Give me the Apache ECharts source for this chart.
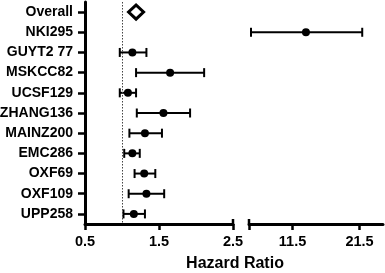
<!DOCTYPE html>
<html><head><meta charset="utf-8">
<script src="https://cdn.jsdelivr.net/npm/echarts@6/dist/echarts.min.js"></script>
<style>html,body{margin:0;padding:0;background:#fff}#c{width:385px;height:273px}#e{position:absolute;left:95px;top:0;width:280px;font:9px sans-serif;color:red;white-space:pre-wrap}</style>
</head><body><div id="c"></div><div id="e"></div>
<script>
const categories = ['Overall','NKI295','GUYT2 77','MSKCC82','UCSF129','ZHANG136','MAINZ200','EMC286','OXF69','OXF109','UPP258'];
const hazardRatio = [1.19, 13.5, 1.14, 1.65, 1.08, 1.56, 1.31, 1.14, 1.30, 1.33, 1.16];
const ciLower = [null, 5.3, 0.97, 1.19, 0.97, 1.20, 1.10, 1.03, 1.17, 1.09, 1.02];
const ciUpper = [null, 21.9, 1.33, 2.11, 1.19, 1.92, 1.54, 1.24, 1.45, 1.57, 1.31];
const leftTicks = [0.5, 1.5, 2.5];
const rightTicks = [11.5, 21.5];
const leftRange = [0.5, 2.5];
const rightRange = [5, 25];
const refLine = 1;

const FONT = 'Liberation Sans';
const rowIdx = categories.map((c, i) => i);
const inLeft = v => v <= leftRange[1];
const barsL = [], barsR = [], ptsL = [], ptsR = [], overall = [];
categories.forEach((c, i) => {
  if (c === 'Overall') { overall.push([hazardRatio[i], i]); return; }
  if (inLeft(hazardRatio[i])) { barsL.push([ciLower[i], ciUpper[i], i]); ptsL.push([hazardRatio[i], i]); }
  else { barsR.push([ciLower[i], ciUpper[i], i]); ptsR.push([hazardRatio[i], i]); }
});
const errs = [];
window.addEventListener('error', ev => { errs.push('win: ' + ev.message); document.getElementById('e').textContent = errs.join('\n'); });

function renderBar(params, api) {
  const yv = api.value(2);
  const a = api.coord([api.value(0), yv]);
  const b = api.coord([api.value(1), yv]);
  const h = 4.5;
  const st = {stroke: '#000', lineWidth: 2};
  return {type: 'group', children: [
    {type: 'line', shape: {x1: a[0], y1: a[1], x2: b[0], y2: b[1]}, style: st},
    {type: 'line', shape: {x1: a[0], y1: a[1] - h, x2: a[0], y2: a[1] + h}, style: st},
    {type: 'line', shape: {x1: b[0], y1: b[1] - h, x2: b[0], y2: b[1] + h}, style: st}
  ]};
}

const lbl = {fontFamily: FONT, fontWeight: 'bold', fontSize: 14.5, color: '#000'};
const ylbl = {fontFamily: FONT, fontWeight: 'bold', fontSize: 14, color: '#000'};
const yRange = [-0.5, categories.length - 0.5];
const xAxisLine = {show: true, onZero: false, lineStyle: {color: '#000', width: 3}};
const chart = echarts.init(document.getElementById('c'));
try {
chart.setOption({
  animation: false,
  grid: [
    {left: 85, width: 148, top: 2, height: 222, outerBoundsMode: 'none'},
    {left: 249, width: 134, top: 2, height: 222, outerBoundsMode: 'none'}
  ],
  xAxis: [
    {gridIndex: 0, type: 'value', position: 'bottom', min: leftRange[0], max: leftRange[1], splitLine: {show: false},
     axisLine: xAxisLine,
     axisTick: {show: true, length: 6, lineStyle: {color: '#000', width: 2.5}, customValues: leftTicks},
     axisLabel: Object.assign({margin: 10, customValues: leftTicks, formatter: v => v.toFixed(1)}, lbl)},
    {gridIndex: 1, type: 'value', position: 'bottom', min: rightRange[0], max: rightRange[1], splitLine: {show: false},
     axisLine: xAxisLine,
     axisTick: {show: true, length: 6, lineStyle: {color: '#000', width: 2.5}, customValues: [rightRange[0]].concat(rightTicks)},
     axisLabel: Object.assign({margin: 10, customValues: rightTicks, formatter: v => v.toFixed(1)}, lbl)}
  ],
  yAxis: [
    {gridIndex: 0, type: 'value', position: 'left', min: yRange[0], max: yRange[1], inverse: true, splitLine: {show: false},
     axisLine: {show: true, onZero: false, lineStyle: {color: '#000', width: 3}},
     axisTick: {show: true, length: 7, lineStyle: {color: '#000', width: 2.5}, customValues: rowIdx},
     axisLabel: Object.assign({margin: 12, customValues: rowIdx, formatter: v => categories[Math.round(v)]}, ylbl)},
    {gridIndex: 1, type: 'value', min: yRange[0], max: yRange[1], inverse: true, splitLine: {show: false},
     axisLine: {show: false, onZero: false}, axisTick: {show: false}, axisLabel: {show: false}}
  ],
  series: [
    {type: 'custom', xAxisIndex: 0, yAxisIndex: 0, data: barsL, renderItem: renderBar, encode: {x: [0, 1], y: 2},
     markLine: {silent: true, symbol: 'none', label: {show: false},
       lineStyle: {type: [1.5, 1.5], color: '#444', width: 1}, data: [{xAxis: refLine}]}},
    {type: 'scatter', xAxisIndex: 0, yAxisIndex: 0, data: ptsL, symbol: 'circle', symbolSize: 8, itemStyle: {color: '#000', opacity: 1}},
    {type: 'scatter', xAxisIndex: 0, yAxisIndex: 0, data: overall, symbol: 'diamond', symbolSize: [15, 14],
     itemStyle: {color: '#fff', borderColor: '#000', borderWidth: 3, opacity: 1}},
    {type: 'custom', xAxisIndex: 1, yAxisIndex: 1, data: barsR, renderItem: renderBar, encode: {x: [0, 1], y: 2}},
    {type: 'scatter', xAxisIndex: 1, yAxisIndex: 1, data: ptsR, symbol: 'circle', symbolSize: 8, itemStyle: {color: '#000', opacity: 1}}
  ]
});
} catch (e) { errs.push('set1: ' + e.stack); }
try {
const yb = chart.convertToPixel({yAxisIndex: 0}, yRange[1]);
const xb1 = chart.convertToPixel({xAxisIndex: 0}, leftRange[1]);
const xb2 = chart.convertToPixel({xAxisIndex: 1}, rightRange[0]);
chart.setOption({graphic: [
  {type: 'line', shape: {x1: xb1, y1: yb - 5, x2: xb1, y2: yb}, style: {stroke: '#000', lineWidth: 2.5}},
  {type: 'line', shape: {x1: xb2, y1: yb - 5, x2: xb2, y2: yb}, style: {stroke: '#000', lineWidth: 2.5}},
  {type: 'text', x: 235, y: 264, style: {text: 'Hazard Ratio', fontFamily: FONT, fontWeight: 'bold', fontSize: 16, fill: '#000', textAlign: 'center', textVerticalAlign: 'middle'}}
]});
} catch (e) { errs.push('graphic: ' + e.stack); }
document.getElementById('e').textContent = errs.join('\n');
</script></body></html>
